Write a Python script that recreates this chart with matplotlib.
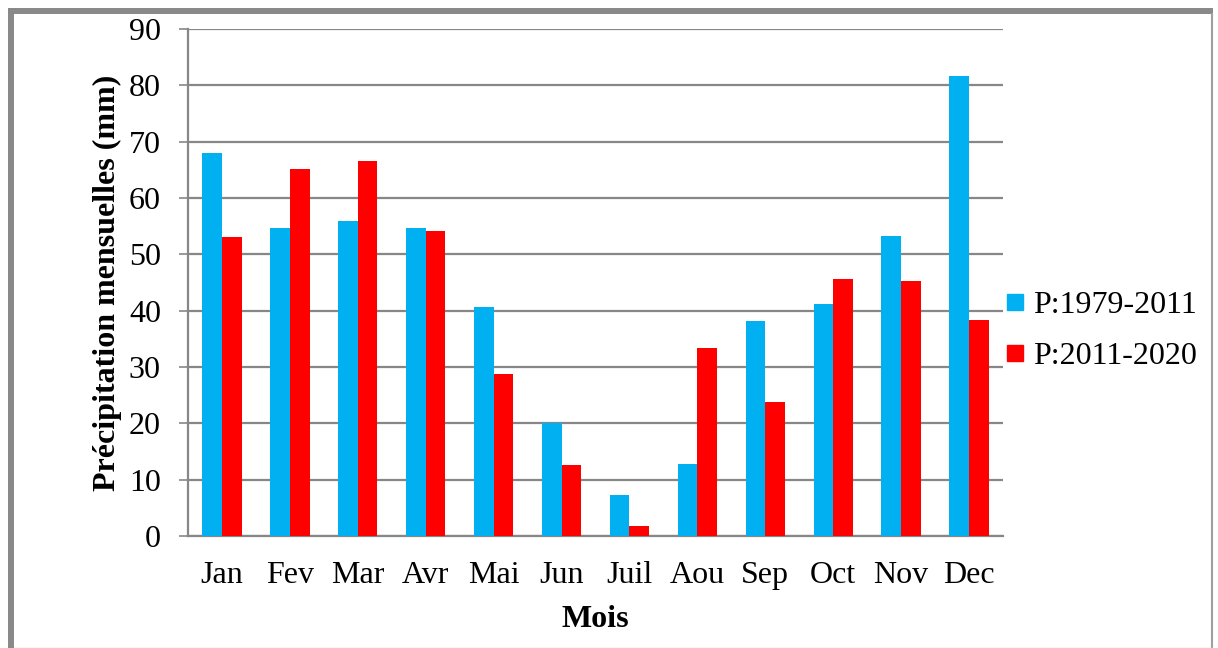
import matplotlib
matplotlib.use("Agg")
import matplotlib.pyplot as plt
import numpy as np
from matplotlib.lines import Line2D

months = ["Jan", "Fev", "Mar", "Avr", "Mai", "Jun", "Juil", "Aou", "Sep", "Oct", "Nov", "Dec"]
p_1979_2011 = [67.9, 54.7, 56.0, 54.6, 40.7, 20.0, 7.3, 12.8, 38.2, 41.1, 53.3, 81.6]
p_2011_2020 = [53.0, 65.1, 66.6, 54.2, 28.7, 12.6, 1.8, 33.4, 23.8, 45.7, 45.3, 38.4]
series_labels = ["P:1979-2011", "P:2011-2020"]
yticks = [0, 10, 20, 30, 40, 50, 60, 70, 80, 90]

plt.rcParams['font.family'] = ['Liberation Serif', 'DejaVu Serif']

W, H = 1218, 648
fig = plt.figure(figsize=(W / 100, H / 100), dpi=100)
ax = fig.add_axes([188 / W, 1 - 536 / H, (1003 - 188) / W, (536 - 29) / H])

blue = "#00B0F0"
red = "#FF0000"
grid_c = "#878787"
fs = 23

x = np.arange(len(months))
bw = 0.29
ax.bar(x - bw / 2, p_1979_2011, bw, color=blue, zorder=3)
ax.bar(x + bw / 2, p_2011_2020, bw, color=red, zorder=3)

ax.set_xlim(-0.5, len(months) - 0.5)
ax.set_ylim(0, 90)
ax.set_yticks(yticks)
ax.set_xticks(x)
ax.set_xticklabels(months)
ax.yaxis.grid(True, color=grid_c, linewidth=1.6, zorder=0)
ax.set_axisbelow(True)
for s in ["top", "right"]:
    ax.spines[s].set_visible(False)
for s in ["left", "bottom"]:
    ax.spines[s].set_color(grid_c)
    ax.spines[s].set_linewidth(1.6)
ax.tick_params(axis="y", length=6.5, width=1.2, color=grid_c, pad=13, labelsize=fs)
ax.tick_params(axis="x", length=0, pad=18, labelsize=fs)

ax.set_ylabel("Précipitation mensuelles (mm)", fontsize=fs, fontweight="bold", labelpad=5)
ax.set_xlabel("Mois", fontsize=fs, fontweight="bold", labelpad=11)

handles = [Line2D([], [], marker="s", linestyle="none", color=blue, markersize=11),
           Line2D([], [], marker="s", linestyle="none", color=red, markersize=11)]
fig.legend(handles, series_labels, loc="center left", bbox_to_anchor=(993 / W, 1 - 331 / H),
           frameon=False, fontsize=fs, handlelength=0.6, handletextpad=0.25, labelspacing=0.68,
           borderaxespad=0)

# outer border
fig.add_artist(Line2D([11 / W, 11 / W], [0, 1 - 8 / H], color="#898989", linewidth=4.3,
                      transform=fig.transFigure, solid_capstyle="butt"))
fig.add_artist(Line2D([8 / W, 1213 / W], [1 - 11 / H, 1 - 11 / H], color="#898989", linewidth=4.3,
                      transform=fig.transFigure, solid_capstyle="butt"))
fig.add_artist(Line2D([1212 / W, 1212 / W], [0, 1 - 14 / H], color="#a0a0a0", linewidth=1.5,
                      transform=fig.transFigure))
fig.add_artist(Line2D([14 / W, 1212 / W], [0.5 / H, 0.5 / H], color="#d0d0d0", linewidth=1.0,
                      transform=fig.transFigure))

fig.savefig("out.png", dpi=100)
